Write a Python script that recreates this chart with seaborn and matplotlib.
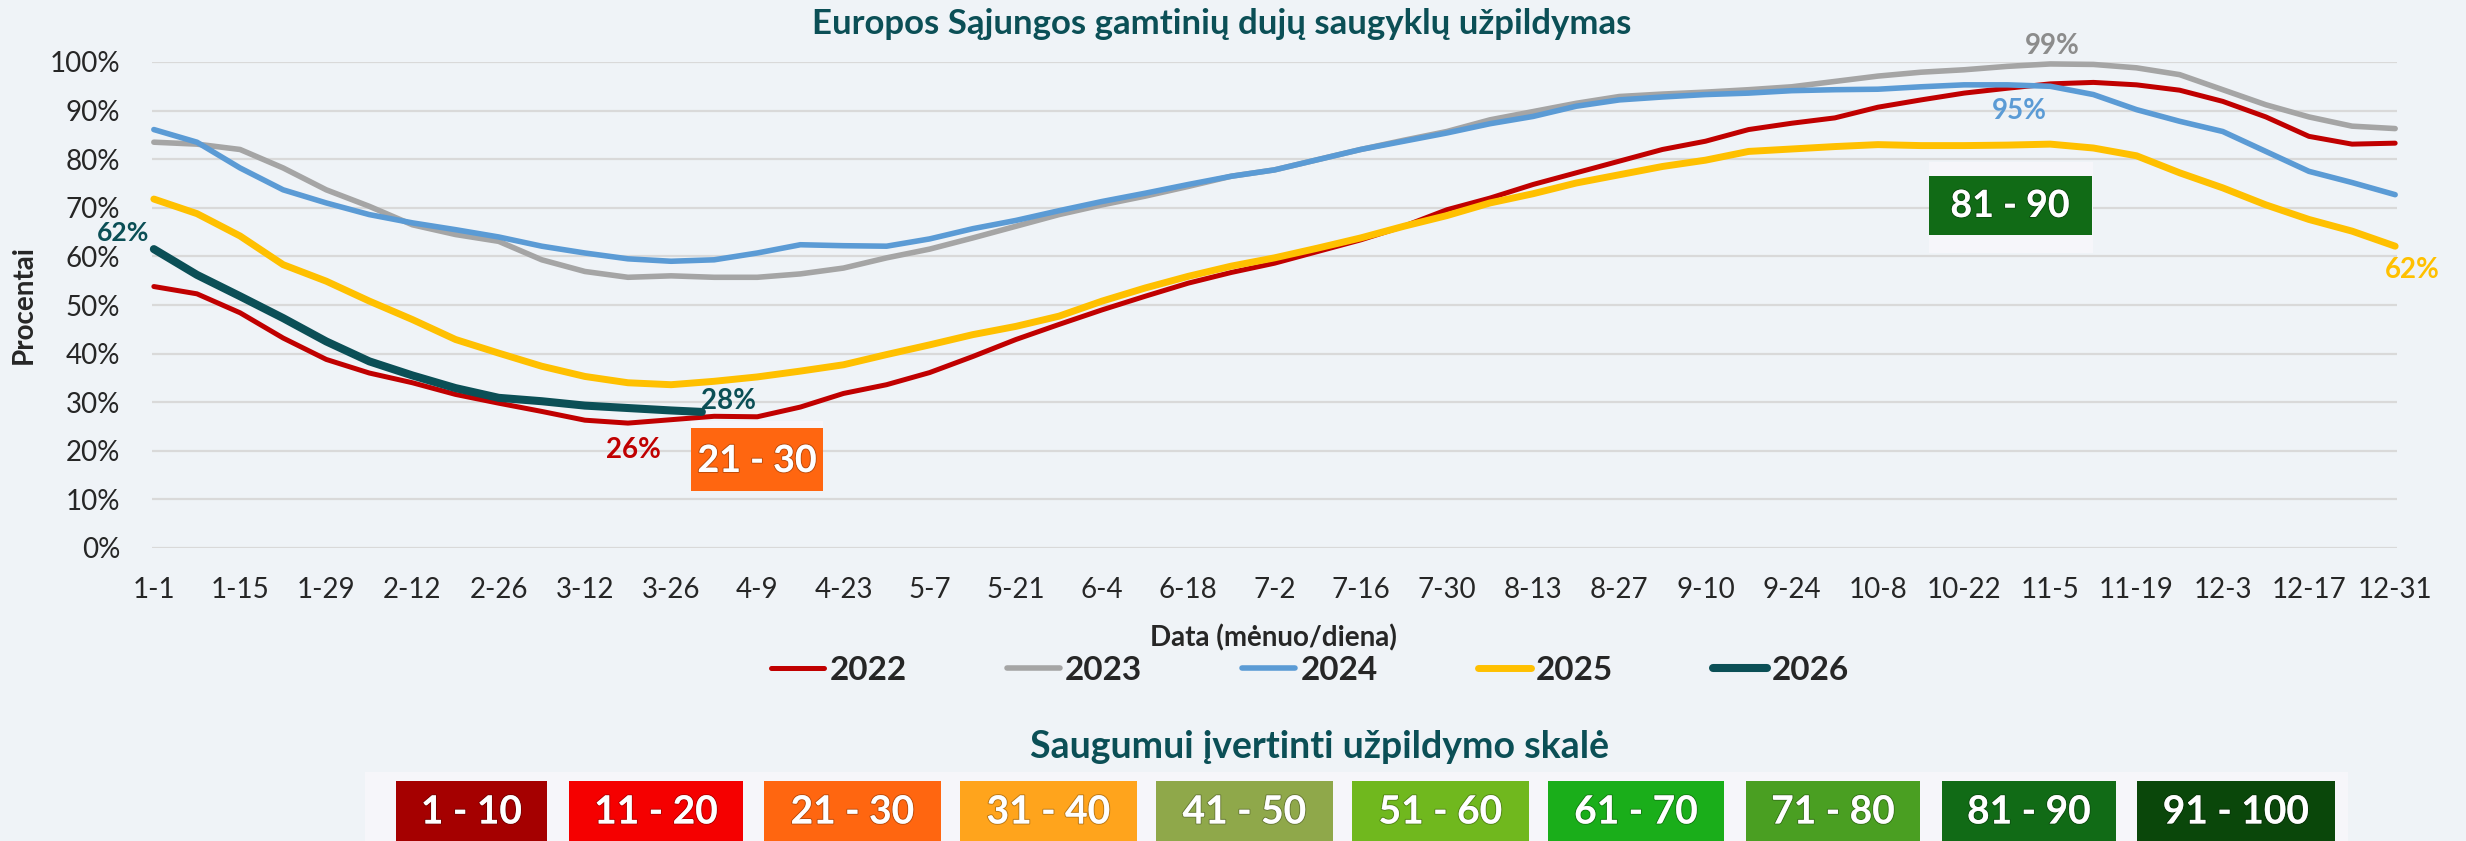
import matplotlib
matplotlib.use("Agg")
import matplotlib.pyplot as plt
import matplotlib.patheffects as pe
from matplotlib.patches import Rectangle
import pandas as pd
import seaborn as sns

# day of year (0 = 1 Jan)
days = list(range(0, 365, 7))

fill_2022 = [53.8, 52.3, 48.4, 43.2, 38.8, 36.0, 34.0, 31.6, 29.8, 28.1, 26.3, 25.7, 26.4,
             27.1, 27.0, 29.0, 31.8, 33.6, 36.1, 39.4, 42.9, 46.0, 49.0, 51.8, 54.5, 56.7,
             58.6, 61.0, 63.4, 66.2, 69.6, 72.0, 74.8, 77.2, 79.6, 82.0, 83.7, 86.1, 87.4,
             88.5, 90.7, 92.2, 93.6, 94.6, 95.5, 95.8, 95.3, 94.2, 91.9, 88.7, 84.7, 83.1, 83.3]
fill_2023 = [83.5, 83.1, 82.0, 78.2, 73.7, 70.3, 66.5, 64.5, 63.1, 59.3, 56.9, 55.7, 56.0,
             55.7, 55.7, 56.4, 57.6, 59.7, 61.5, 63.8, 66.2, 68.6, 70.6, 72.4, 74.4, 76.5,
             77.8, 79.9, 82.0, 83.9, 85.7, 88.1, 89.8, 91.5, 92.9, 93.4, 93.8, 94.3, 94.9,
             96.0, 97.1, 97.9, 98.4, 99.1, 99.6, 99.5, 98.8, 97.4, 94.3, 91.2, 88.7, 86.8, 86.3]
fill_2024 = [86.1, 83.5, 78.2, 73.7, 71.0, 68.6, 66.9, 65.5, 64.0, 62.1, 60.7, 59.5, 59.0,
             59.3, 60.7, 62.4, 62.2, 62.1, 63.6, 65.7, 67.4, 69.4, 71.3, 73.0, 74.8, 76.5,
             77.8, 79.9, 82.0, 83.7, 85.4, 87.3, 88.8, 90.9, 92.2, 92.8, 93.3, 93.6, 94.1,
             94.3, 94.4, 94.9, 95.3, 95.3, 95.0, 93.3, 90.2, 87.8, 85.7, 81.6, 77.5, 75.2, 72.7]
fill_2025 = [71.8, 68.8, 64.2, 58.3, 54.9, 50.8, 47.0, 42.9, 40.1, 37.4, 35.3, 34.0, 33.6,
             34.3, 35.2, 36.4, 37.7, 39.8, 41.8, 43.9, 45.6, 47.7, 50.8, 53.5, 55.9, 58.0,
             59.7, 61.7, 63.8, 66.2, 68.4, 71.0, 72.9, 75.1, 76.8, 78.5, 79.8, 81.6, 82.1,
             82.6, 83.0, 82.8, 82.8, 82.9, 83.1, 82.3, 80.7, 77.2, 74.1, 70.6, 67.6, 65.2, 62.1]
days_2026 = [0, 7, 14, 21, 28, 35, 42, 49, 56, 63, 70, 77, 84, 89]
fill_2026 = [61.5, 56.2, 51.8, 47.3, 42.5, 38.4, 35.5, 32.9, 30.9, 30.2, 29.3, 28.8, 28.3, 28.0]

years = ["2022", "2023", "2024", "2025", "2026"]
colors = ["#C00000", "#A5A5A5", "#5B9BD5", "#FFC000", "#0B4F56"]
widths = [3.6, 4.0, 4.0, 5.0, 5.8]

tick_days = list(range(0, 365, 14))
tick_labels = ["1-1", "1-15", "1-29", "2-12", "2-26", "3-12", "3-26", "4-9", "4-23", "5-7",
               "5-21", "6-4", "6-18", "7-2", "7-16", "7-30", "8-13", "8-27", "9-10", "9-24",
               "10-8", "10-22", "11-5", "11-19", "12-3", "12-17", "12-31"]

scale_labels = ["1 - 10", "11 - 20", "21 - 30", "31 - 40", "41 - 50",
                "51 - 60", "61 - 70", "71 - 80", "81 - 90", "91 - 100"]
scale_colors = ["#A50000", "#F50000", "#FF6610", "#FFA41C", "#8FA84A",
                "#70B81E", "#1AAE1A", "#4A9F22", "#116B16", "#0A470A"]

teal = "#0B4F56"
bg = "#EFF3F7"

sns.set_style("white")
plt.rcParams["font.family"] = ["Lato", "DejaVu Sans"]

df = pd.concat([
    pd.DataFrame({"day": days, "fill": fill_2022, "year": "2022"}),
    pd.DataFrame({"day": days, "fill": fill_2023, "year": "2023"}),
    pd.DataFrame({"day": days, "fill": fill_2024, "year": "2024"}),
    pd.DataFrame({"day": days, "fill": fill_2025, "year": "2025"}),
    pd.DataFrame({"day": days_2026, "fill": fill_2026, "year": "2026"}),
])

W, H = 2466, 841
fig = plt.figure(figsize=(W / 100, H / 100), dpi=100, facecolor=bg)
ax = fig.add_axes([152 / W, 1 - 548 / H, 2245 / W, 486 / H], facecolor=bg)

for yr, c, lw in zip(years, colors, widths):
    sns.lineplot(data=df[df["year"] == yr], x="day", y="fill", color=c, linewidth=lw,
                 label=yr, ax=ax, solid_capstyle="round", clip_on=False)

ax.set_xlim(-0.3, 364.3)
ax.set_ylim(0, 100)
ax.set_yticks(range(0, 101, 10))
ax.set_yticklabels([f"{v}%" for v in range(0, 101, 10)])
ax.set_xticks(tick_days)
ax.set_xticklabels(tick_labels)
ax.tick_params(axis="x", length=0, pad=21, labelsize=20)
ax.tick_params(axis="y", length=0, pad=23, labelsize=20)
ax.grid(axis="y", color="#D9D9D9", linewidth=1.6)
ax.set_axisbelow(True)
for s in ax.spines.values():
    s.set_visible(False)
ax.set_xlabel("")
ax.set_ylabel("")

handles, labels = ax.get_legend_handles_labels()
ax.get_legend().remove()
fig.legend(handles, labels, loc="center", bbox_to_anchor=(1310 / W, 1 - 670 / H), ncol=5,
           frameon=False, handlelength=1.6, handletextpad=0.15, columnspacing=3.0,
           prop={"size": 24, "weight": "bold"})

# texts
fig.text(1222 / W, 1 - 24 / H, "Europos Sąjungos gamtinių dujų saugyklų užpildymas",
         ha="center", va="center", fontsize=25, fontweight="bold", color=teal)
fig.text(24 / W, 1 - 305 / H, "Procentai", rotation=90, ha="center", va="center",
         fontsize=20, fontweight="bold")
fig.text(1273 / W, 1 - 638 / H, "Data (mėnuo/diena)", ha="center", va="center",
         fontsize=20, fontweight="bold")
fig.text(1320 / W, 1 - 747 / H, "Saugumui įvertinti užpildymo skalė", ha="center",
         va="center", fontsize=27, fontweight="bold", color=teal)

# value labels
ax.text(-5.0, 64.8, "62%", ha="center", va="center", fontsize=19, fontweight="bold", color=teal)
ax.text(93.3, 30.2, "28%", ha="center", va="center", fontsize=20, fontweight="bold", color=teal)
ax.text(77.9, 20.2, "26%", ha="center", va="center", fontsize=20, fontweight="bold", color="#C00000")
ax.text(308.4, 103.3, "99%", ha="center", va="center", fontsize=20, fontweight="bold", color="#8C8C8C")
ax.text(303.0, 89.9, "95%", ha="center", va="center", fontsize=20, fontweight="bold", color="#5B9BD5")
ax.text(366.8, 57.2, "62%", ha="center", va="center", fontsize=20, fontweight="bold", color="#FFC000")


def box(x0, y0, x1, y1, color, z=5):
    fig.add_artist(Rectangle((x0 / W, 1 - y1 / H), (x1 - x0) / W, (y1 - y0) / H,
                             transform=fig.transFigure, facecolor=color, edgecolor="none",
                             zorder=z))


def box_text(x, y, s, size):
    fig.text(x / W, 1 - y / H, s, ha="center", va="center", fontsize=size,
             fontweight="bold", color="white", zorder=10,
             path_effects=[pe.withStroke(linewidth=1.5, foreground="#00000040")])


# in-plot scale markers
box(691, 421, 823, 491, "#F6F6FA")
box(691, 428, 823, 491, scale_colors[2])
box_text(757, 461, scale_labels[2], 27)
box(1929, 162, 2093, 253, "#F6F6FA")
box(1929, 176, 2092, 235, scale_colors[8])
box_text(2010, 206, scale_labels[8], 27)

# scale strip
box(365, 772, 2348, 841, "#F6F6FA", z=4)
lefts = [396, 569, 764, 960, 1156, 1352, 1548, 1746, 1942, 2137]
rights = [547, 743, 941, 1137, 1333, 1529, 1724, 1920, 2116, 2335]
for l, r, c, s in zip(lefts, rights, scale_colors, scale_labels):
    box(l, 781, r, 845, c)
    box_text((l + r) / 2, 812, s, 28)

fig.savefig("out.png", dpi=100, facecolor=bg)
